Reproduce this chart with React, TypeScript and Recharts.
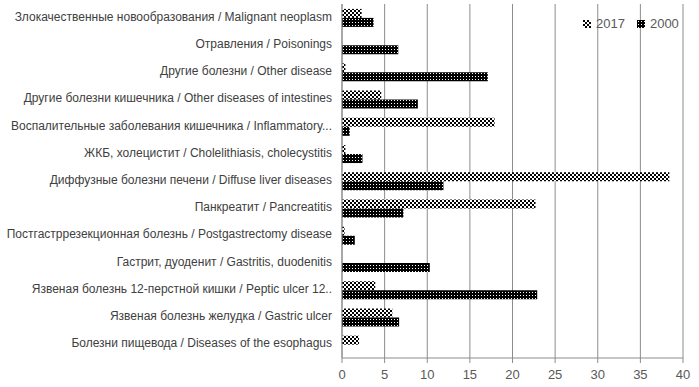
import { BarChart, Bar, XAxis, YAxis, CartesianGrid, Legend } from "recharts";

// категории сверху вниз
const categories = [
  "Злокачественные новообразования / Malignant neoplasm",
  "Отравления / Poisonings",
  "Другие болезни / Other disease",
  "Другие болезни кишечника / Other diseases of intestines",
  "Воспалительные заболевания кишечника / Inflammatory...",
  "ЖКБ, холецистит / Cholelithiasis, cholecystitis",
  "Диффузные болезни печени / Diffuse liver diseases",
  "Панкреатит / Pancreatitis",
  "Постгастррезекционная болезнь / Postgastrectomy disease",
  "Гастрит, дуоденит / Gastritis, duodenitis",
  "Язвеная болезнь 12-перстной кишки / Peptic ulcer 12..",
  "Язвеная болезнь желудка / Gastric ulcer",
  "Болезни пищевода / Diseases of the esophagus",
];

const values2017 = [2.3, 0, 0.4, 4.6, 17.9, 0.4, 38.4, 22.7, 0.3, 0, 3.9, 5.9, 2.0];
const values2000 = [3.7, 6.6, 17.1, 8.9, 0.9, 2.4, 11.9, 7.2, 1.5, 10.3, 22.9, 6.7, 0];

const xTicks = [0, 5, 10, 15, 20, 25, 30, 35, 40];

const FONT = "'Liberation Sans', Arial, sans-serif";

const data = categories.map((name, i) => ({
  name,
  y2017: values2017[i],
  y2000: values2000[i],
}));

// подпись категории в одну строку, без переноса
const CategoryTick = (props: any) => {
  const { x, y, payload } = props;
  return (
    <text
      x={x}
      y={y}
      dy={3}
      textAnchor="end"
      fill="#404040"
      fontSize={12}
      fontFamily={FONT}>
      {payload.value}
    </text>
  );
};

const LegendBox = () => (
  <div
    style={{
      display: "flex",
      alignItems: "center",
      fontFamily: FONT,
      fontSize: 13,
      color: "#595959",
    }}>
    <svg width={8} height={8} style={{ marginRight: 5 }}>
      <rect width={8} height={8} fill="url(#pat2017)" />
    </svg>
    <span style={{ marginRight: 12 }}>2017</span>
    <svg width={8} height={8} style={{ marginRight: 5 }}>
      <rect width={8} height={8} fill="url(#pat2000)" />
    </svg>
    <span>2000</span>
  </div>
);

export default function App() {
  return (
    <div style={{ position: "absolute", left: 0, top: 0, background: "#fff" }}>
      {/* заливки-узоры как в Excel */}
      <svg width={0} height={0} style={{ position: "absolute" }}>
        <defs>
          <pattern id="pat2017" width={4} height={4} patternUnits="userSpaceOnUse">
            <rect width={4} height={4} fill="#fff" />
            <rect x={0} y={0} width={2} height={2} fill="#000" />
            <rect x={2} y={2} width={2} height={2} fill="#000" />
          </pattern>
          <pattern id="pat2000" width={3} height={3} patternUnits="userSpaceOnUse">
            <rect width={3} height={3} fill="#000" />
            <rect x={1} y={1} width={1} height={1} fill="#fff" />
          </pattern>
        </defs>
      </svg>
      <BarChart
        width={699}
        height={387}
        data={data}
        layout="vertical"
        margin={{ top: 4, right: 16, bottom: 0, left: 0 }}
        barCategoryGap="18%"
        barGap={0}>
        <CartesianGrid horizontal={false} stroke="#8c8c8c" />
        <XAxis
          type="number"
          domain={[0, 40]}
          ticks={xTicks}
          height={29}
          stroke="#8c8c8c"
          tickSize={5}
          tickMargin={7}
          tick={{ fill: "#595959", fontSize: 13, fontFamily: FONT }}
        />
        <YAxis
          type="category"
          dataKey="name"
          width={342}
          stroke="#8c8c8c"
          tickLine={false}
          tickSize={8}
          interval={0}
          tick={<CategoryTick />}
        />
        <Legend
          layout="horizontal"
          verticalAlign="middle"
          align="center"
          content={<LegendBox />}
          wrapperStyle={{ position: "absolute", top: 16, left: 583, width: "auto", height: "auto" }}
        />
        <Bar dataKey="y2017" fill="url(#pat2017)" isAnimationActive={false} />
        <Bar dataKey="y2000" fill="url(#pat2000)" isAnimationActive={false} />
      </BarChart>
    </div>
  );
}
